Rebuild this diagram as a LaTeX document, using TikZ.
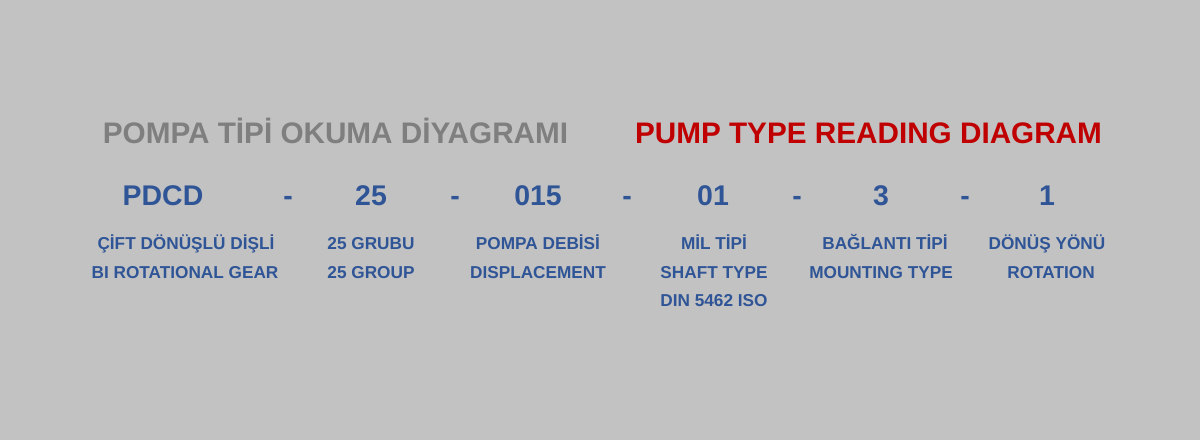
\documentclass[tikz,border=0pt]{standalone}
\usepackage{fontspec}
\setmainfont{Liberation Sans}
\usetikzlibrary{calc,positioning}
\definecolor{bgGray}{HTML}{C2C2C2}
\definecolor{titleGray}{HTML}{7F7F7F}
\definecolor{titleRed}{HTML}{C00000}
\definecolor{codeBlue}{HTML}{2F5597}

\begin{document}
\begin{tikzpicture}[x=0.02cm,y=-0.02cm,
    title/.style={anchor=base,inner sep=0pt,font=\fontsize{16.9}{20}\selectfont\bfseries},
    code/.style={anchor=base,inner sep=0pt,text=codeBlue,font=\fontsize{16.2}{20}\selectfont\bfseries},
    lbl/.style={anchor=base,inner sep=0pt,text=codeBlue,font=\fontsize{9.8}{11}\selectfont\bfseries}]
    % background / page size
    \fill[bgGray] (0,0) rectangle (1200,440);

    % titles
    \node[title,text=titleGray] (titleTr) at (335.5,143) {POMPA TİPİ OKUMA DİYAGRAMI};
    \node[title,text=titleRed] (titleEn) at (868.5,143) {PUMP TYPE READING DIAGRAM};

    % code row
    \foreach \name/\x/\txt in {pdcd/163/PDCD, grp/371/25, disp/538/015, shaft/713/01, mount/881/3, rot/1047/1}
        \node[code] (\name) at (\x,205) {\txt};
    \foreach \i/\x in {1/288, 2/455, 3/627, 4/797, 5/965}
        \node[code] (dash\i) at (\x,205) {-};

    % labels, turkish line
    \node[lbl] (pdcdTr) at (186,249) {ÇİFT DÖNÜŞLÜ DİŞLİ};
    \node[lbl] (grpTr) at (371,249) {25 GRUBU};
    \node[lbl] (dispTr) at (538,249) {POMPA DEBİSİ};
    \node[lbl] (shaftTr) at (714,249) {MİL TİPİ};
    \node[lbl] (mountTr) at (885,249) {BAĞLANTI TİPİ};
    \node[lbl] (rotTr) at (1047,249) {DÖNÜŞ YÖNÜ};

    % labels, english line
    \node[lbl] (pdcdEn) at (185,278) {BI ROTATIONAL GEAR};
    \node[lbl] (grpEn) at (371,278) {25 GROUP};
    \node[lbl] (dispEn) at (538,278) {DISPLACEMENT};
    \node[lbl] (shaftEn) at (714,278) {SHAFT TYPE};
    \node[lbl] (mountEn) at (881,278) {MOUNTING TYPE};
    \node[lbl] (rotEn) at (1051,278) {ROTATION};
    \node[lbl] (shaftStd) at (714,306) {DIN 5462 ISO};
\end{tikzpicture}
\end{document}
